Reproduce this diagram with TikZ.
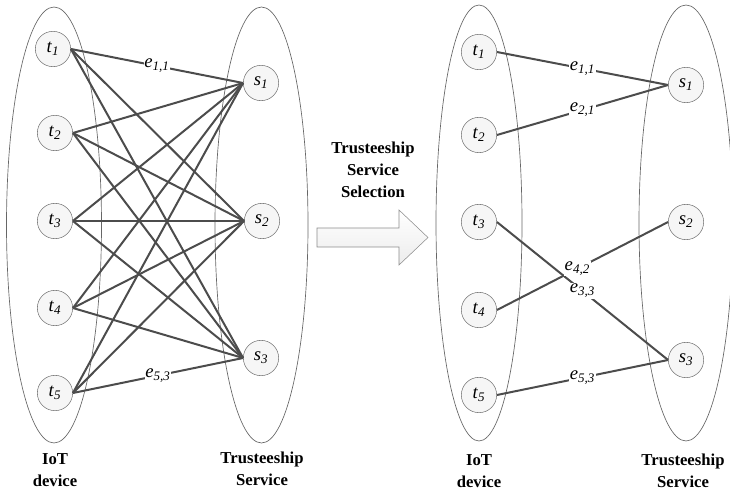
\documentclass[tikz,border=0pt]{standalone}
\usepackage{fontspec}
\setmainfont{Liberation Serif}
\usepackage{tikz}
\usetikzlibrary{arrows}
\newcommand{\ix}[2]{\textit{#1}\textsubscript{\textit{#2}}}
\tikzset{
  vertex/.style={circle,draw=black!55,fill=gray!7,minimum size=26.5pt,inner sep=0pt,font=\fontsize{14}{16}\selectfont},
  link/.style={draw=black!70,line width=1.5pt},
  wlabel/.style={fill=white,inner sep=0.6pt,font=\fontsize{14}{16}\selectfont},
  group/.style={draw=black!60,line width=0.5pt},
  caption/.style={align=center,font=\bfseries\fontsize{12.5}{16.5}\selectfont}
}

\begin{document}
\begin{tikzpicture}[x=0.75pt,y=-0.75pt]
          \useasboundingbox (0,0) rectangle (730,491);

          % groups
          \draw[group] (54,225) ellipse (47.5 and 218);
          \draw[group] (261.5,225) ellipse (46.5 and 218);
          \draw[group] (479,223) ellipse (43 and 218);
          \draw[group] (686,223) ellipse (47 and 218);

          % all pairs
          \node[vertex] (t1) at (53,49){\ix{t}{1}};
          \node[vertex] (t2) at (55,133){\ix{t}{2}};
          \node[vertex] (t3) at (55,221){\ix{t}{3}};
          \node[vertex] (t4) at (55,308){\ix{t}{4}};
          \node[vertex] (t5) at (55,393){\ix{t}{5}};
          \node[vertex] (s1) at (261,83){\ix{s}{1}};
          \node[vertex] (s2) at (262,221){\ix{s}{2}};
          \node[vertex] (s3) at (261,358){\ix{s}{3}};

          \draw[link](t1.east)--(s1.west) node[wlabel,midway]{\ix{e}{1,1}};
          \draw[link](t1.east)--(s2.west);
          \draw[link](t1.east)--(s3.west);
          \draw[link](t2.east)--(s1.west);
          \draw[link](t2.east)--(s2.west);
          \draw[link](t2.east)--(s3.west);
          \draw[link](t3.east)--(s1.west);
          \draw[link](t3.east)--(s2.west);
          \draw[link](t3.east)--(s3.west);
          \draw[link](t4.east)--(s1.west);
          \draw[link](t4.east)--(s2.west);
          \draw[link](t4.east)--(s3.west);
          \draw[link](t5.east)--(s1.west);
          \draw[link](t5.east)--(s2.west);
          \draw[link](t5.east)--(s3.west) node[wlabel,midway]{\ix{e}{5,3}};

          \node[caption] (dev) at (55,470){IoT\\device};
          \node[caption] (srv) at (262,469){Trusteeship\\Service};

          % selection step
          \draw[draw=black!45,top color=white,bottom color=gray!15]
            (317,228) -- (399,228) -- (399,210) -- (428,237.5)
            -- (399,265) -- (399,247) -- (317,247) -- cycle;
          \node[caption] (sel) at (373,170){Trusteeship\\Service\\Selection};

          % chosen pairs
          \node[vertex] (tt1) at (479,52){\ix{t}{1}};
          \node[vertex] (tt2) at (479,135){\ix{t}{2}};
          \node[vertex] (tt3) at (479,222){\ix{t}{3}};
          \node[vertex] (tt4) at (479,310){\ix{t}{4}};
          \node[vertex] (tt5) at (479,395){\ix{t}{5}};
          \node[vertex] (ss1) at (686,85){\ix{s}{1}};
          \node[vertex] (ss2) at (686,222){\ix{s}{2}};
          \node[vertex] (ss3) at (686,360){\ix{s}{3}};

          \draw[link](tt1.east)--(ss1.west) node[wlabel,midway]{\ix{e}{1,1}};
          \draw[link](tt2.east)--(ss1.west) node[wlabel,midway]{\ix{e}{2,1}};
          \draw[link](tt3.east)--(ss3.west) node[wlabel,midway]{\ix{e}{3,3}};
          \draw[link](tt4.east)--(ss2.west) node[wlabel,pos=0.47]{\ix{e}{4,2}};
          \draw[link](tt5.east)--(ss3.west) node[wlabel,midway]{\ix{e}{5,3}};

          \node[caption] (dev2) at (479,471){IoT\\device};
          \node[caption] (srv2) at (683,471){Trusteeship\\Service};

        \end{tikzpicture}
\end{document}
